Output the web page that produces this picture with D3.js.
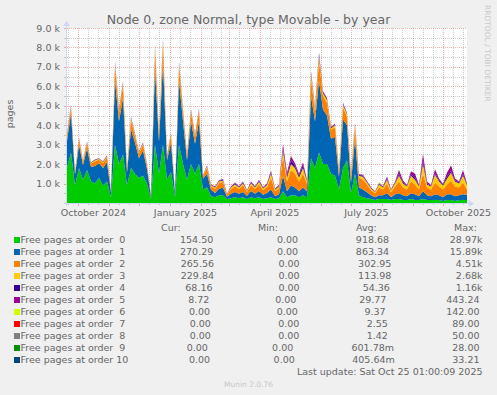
<!DOCTYPE html>
<html>
<head>
<meta charset="utf-8">
<script src="https://cdn.jsdelivr.net/npm/d3@7"></script>
<style>
  html, body { margin: 0; padding: 0; background: #f0f0f0; }
  svg { display: block; font-family: "DejaVu Sans", sans-serif; }
  text { white-space: pre; }
</style>
</head>
<body>
<svg id="chart" width="497" height="395"></svg>
<script>
var seriesNames = [
  "Free pages at order  0", "Free pages at order  1", "Free pages at order  2",
  "Free pages at order  3", "Free pages at order  4", "Free pages at order  5",
  "Free pages at order  6", "Free pages at order  7", "Free pages at order  8",
  "Free pages at order  9", "Free pages at order 10"
];
var seriesColors = [
  "#00cc00", "#0066b3", "#ff8000", "#ffcc00", "#330099", "#990099",
  "#ccff00", "#ff0000", "#808080", "#008f00", "#00487d"
];

// one sample every 4 days, from the start of the 400 day window
var startDate = new Date(Date.UTC(2024, 8, 20, 1, 0, 9));
var endDate = new Date(Date.UTC(2025, 9, 25, 1, 0, 9));
var stepDays = 4;

var order0 = [1800, 2600, 900, 1800, 1200, 1700, 1100, 1000, 1300, 900, 1100,
  300, 3000, 2000, 2500, 900, 1800, 1500, 1300, 1400, 1000,
  200, 3000, 1500, 3000, 1200, 1600, 300, 3000, 2000, 1200,
  2000, 1500, 2000, 700, 800, 350, 300, 400, 400, 200,
  250, 300, 250, 300, 200, 300, 250, 300, 200, 250,
  300, 200, 250, 600, 300, 400, 400, 300, 400, 300,
  2300, 1800, 2600, 2000, 2000, 1500, 1400, 700, 1800, 2200,
  500, 1500, 400, 300, 250, 200, 150, 200, 200, 200,
  150, 200, 200, 150, 150, 200, 150, 150, 200, 150,
  150, 150, 150, 100, 150, 150, 100, 150, 150, 155];
var order1 = [1400, 2000, 550, 1200, 750, 1100, 750, 900, 750, 900, 1000,
  250, 3300, 2200, 2900, 650, 2000, 1600, 1000, 1300, 750,
  120, 3900, 1650, 4200, 1000, 1500, 220, 3300, 2200, 1000,
  2200, 1550, 2200, 550, 700, 330, 220, 330, 380, 120,
  220, 270, 220, 270, 170, 320, 220, 320, 220, 270,
  400, 150, 200, 800, 300, 500, 400, 300, 400, 300,
  3200, 2400, 3700, 2800, 2500, 1800, 2000, 650, 2500, 1800,
  550, 1800, 400, 400, 300, 200, 150, 200, 200, 300,
  150, 250, 300, 250, 200, 300, 300, 200, 400, 250,
  200, 300, 250, 200, 300, 300, 250, 250, 300, 270];
var order2 = [250, 300, 120, 250, 180, 250, 180, 250, 180, 250, 250,
  120, 700, 450, 600, 180, 450, 350, 250, 300, 180,
  60, 900, 350, 900, 180, 400, 60, 700, 450, 250,
  450, 350, 500, 120, 300, 180, 200, 300, 300, 100,
  250, 300, 250, 350, 200, 300, 250, 350, 250, 300,
  600, 250, 300, 1000, 500, 800, 700, 500, 700, 400,
  900, 500, 1000, 700, 650, 450, 500, 250, 600, 450,
  350, 550, 500, 500, 400, 250, 200, 400, 300, 500,
  250, 400, 600, 400, 350, 600, 500, 350, 900, 400,
  350, 600, 450, 400, 500, 700, 500, 400, 600, 266];
var order3 = [60, 90, 30, 60, 50, 60, 40, 50, 40, 50, 60,
  30, 150, 100, 150, 40, 100, 70, 50, 70, 40,
  20, 200, 70, 200, 40, 70, 20, 150, 100, 50,
  100, 70, 100, 30, 80, 50, 60, 80, 80, 30,
  80, 100, 80, 100, 60, 100, 80, 120, 80, 100,
  200, 80, 100, 300, 200, 300, 300, 200, 300, 100,
  250, 150, 250, 150, 150, 100, 100, 80, 150, 100,
  100, 150, 100, 150, 100, 100, 50, 150, 100, 200,
  100, 150, 300, 200, 150, 300, 250, 150, 500, 150,
  150, 400, 250, 200, 300, 400, 250, 200, 350, 230];
var order4 = [30, 40, 10, 30, 20, 30, 20, 20, 20, 20, 30,
  10, 60, 40, 60, 20, 40, 30, 20, 30, 20,
  10, 80, 30, 80, 20, 30, 10, 60, 40, 20,
  40, 30, 40, 20, 30, 20, 20, 30, 30, 10,
  30, 40, 30, 40, 20, 40, 30, 50, 30, 40,
  60, 20, 40, 120, 100, 200, 100, 100, 150, 40,
  80, 50, 100, 60, 60, 40, 40, 30, 60, 40,
  30, 60, 40, 50, 40, 30, 20, 40, 30, 60,
  30, 40, 100, 60, 40, 80, 100, 40, 200, 50,
  40, 80, 60, 50, 100, 80, 60, 50, 80, 68];
var order5 = [20, 30, 10, 20, 10, 20, 10, 20, 10, 20, 20,
  10, 50, 30, 40, 10, 30, 20, 10, 20, 10,
  10, 60, 20, 50, 10, 20, 10, 40, 30, 10,
  30, 20, 30, 10, 30, 20, 50, 30, 40, 10,
  30, 40, 30, 40, 20, 40, 30, 50, 30, 50,
  100, 30, 50, 200, 150, 200, 150, 100, 150, 40,
  60, 40, 80, 40, 40, 30, 30, 20, 40, 30,
  30, 50, 40, 50, 40, 30, 20, 40, 30, 100,
  30, 50, 200, 100, 40, 150, 200, 50, 300, 100,
  40, 200, 100, 40, 200, 300, 100, 60, 200, 9];
var order6 = [0, 0, 0, 0, 0, 0, 0, 0, 0, 0, 0,
  0, 0, 0, 0, 0, 0, 0, 0, 0, 0,
  0, 0, 0, 0, 0, 0, 0, 0, 0, 0,
  0, 0, 0, 0, 20, 0, 0, 0, 0, 0,
  0, 0, 0, 0, 0, 0, 0, 0, 0, 0,
  30, 0, 0, 0, 0, 0, 0, 0, 0, 0,
  0, 0, 0, 0, 0, 0, 0, 0, 0, 0,
  0, 0, 0, 0, 0, 0, 0, 50, 0, 0,
  0, 0, 20, 0, 0, 0, 0, 0, 0, 0,
  0, 30, 0, 0, 0, 0, 0, 0, 0, 0];
var order7 = [0, 0, 0, 0, 0, 0, 0, 0, 0, 0, 0,
  0, 0, 0, 0, 0, 0, 0, 0, 0, 0,
  0, 0, 0, 0, 0, 0, 0, 0, 0, 0,
  0, 0, 0, 0, 0, 0, 0, 0, 0, 0,
  0, 0, 0, 0, 0, 0, 0, 0, 0, 0,
  0, 0, 0, 20, 0, 0, 0, 0, 0, 0,
  0, 0, 0, 0, 0, 0, 0, 0, 0, 0,
  0, 0, 0, 0, 0, 0, 0, 0, 0, 0,
  0, 0, 0, 0, 0, 0, 0, 0, 15, 0,
  0, 0, 0, 0, 0, 10, 0, 0, 0, 0];
var order8 = [0, 0, 0, 0, 0, 0, 0, 0, 0, 0, 0,
  0, 0, 0, 0, 0, 0, 0, 0, 0, 0,
  0, 0, 0, 0, 0, 0, 0, 0, 0, 0,
  0, 0, 0, 0, 0, 0, 0, 0, 0, 0,
  0, 0, 0, 0, 0, 0, 0, 0, 0, 0,
  0, 0, 0, 0, 0, 15, 0, 0, 0, 0,
  0, 0, 0, 0, 0, 0, 0, 0, 0, 0,
  0, 0, 0, 0, 0, 0, 0, 0, 0, 0,
  0, 0, 10, 0, 0, 0, 0, 0, 0, 0,
  0, 0, 0, 0, 0, 0, 0, 0, 0, 0];
var order9 = [0, 0, 0, 0, 0, 0, 0, 0, 0, 0, 0,
  0, 0, 0, 0, 0, 0, 0, 0, 0, 0,
  0, 10, 0, 0, 0, 0, 0, 0, 0, 0,
  0, 0, 0, 0, 0, 0, 0, 0, 0, 0,
  0, 0, 0, 0, 0, 0, 0, 0, 0, 0,
  0, 0, 0, 0, 0, 0, 0, 0, 0, 0,
  0, 0, 8, 0, 0, 0, 0, 0, 0, 0,
  0, 0, 0, 0, 0, 0, 0, 0, 0, 0,
  0, 0, 0, 0, 0, 0, 0, 0, 0, 0,
  0, 0, 0, 0, 0, 0, 0, 0, 0, 0];
var order10 = [0, 0, 0, 0, 0, 0, 0, 0, 0, 0, 0,
  0, 0, 0, 0, 0, 0, 0, 0, 0, 0,
  0, 0, 0, 15, 0, 0, 0, 0, 0, 0,
  0, 0, 0, 0, 0, 0, 0, 0, 0, 0,
  0, 0, 0, 0, 0, 0, 0, 0, 0, 0,
  0, 10, 0, 0, 0, 0, 0, 0, 0, 0,
  0, 0, 0, 0, 0, 0, 0, 0, 0, 0,
  0, 0, 0, 0, 0, 0, 0, 0, 0, 0,
  0, 0, 0, 0, 0, 0, 0, 0, 0, 0,
  0, 0, 0, 0, 0, 0, 0, 0, 0, 0];
var seriesValues = [order0, order1, order2, order3, order4, order5,
  order6, order7, order8, order9, order10];

var yTicks = [1000, 2000, 3000, 4000, 5000, 6000, 7000, 8000, 9000];
var monthLabels = ["October 2024", "January 2025", "April 2025", "July 2025", "October 2025"];
var monthLabelMonths = [[2024, 9], [2025, 0], [2025, 3], [2025, 6], [2025, 9]];

var legendCur = [154.50, 270.29, 265.56, 229.84, 68.16, 8.72, 0, 0, 0, 0, 0];
var legendMin = [0, 0, 0, 0, 0, 0, 0, 0, 0, 0, 0];
var legendAvg = [918.68, 863.34, 302.95, 113.98, 54.36, 29.77, 9.37, 2.55, 1.42, 0.60178, 0.40564];
var legendMax = [28970, 15890, 4510, 2680, 1160, 443.24, 142.00, 89.00, 50.00, 28.00, 33.21];

var titleText = "Node 0, zone Normal, type Movable - by year";
var lastUpdate = "Last update: Sat Oct 25 01:00:09 2025";

var fontColor = "#666666";
var axisColor = "#cfd6f8";
var gridColor = "rgba(143,143,143,0.45)";
var majorGridColor = "rgba(222,79,79,0.45)";

var plot = { left: 67, right: 467, top: 28, bottom: 203 };

var svg = d3.select("#chart");
svg.append("rect").attr("width", 497).attr("height", 395).attr("fill", "#f0f0f0");

var xScale = d3.scaleUtc().domain([startDate, endDate]).range([plot.left, plot.right]);
var yScale = d3.scaleLinear().domain([0, 9000]).range([plot.bottom, plot.top]);

// rows for the stack
var rows = order0.map(function(d, i) {
  var row = { date: d3.utcDay.offset(startDate, i * stepDays) };
  seriesValues.forEach(function(vals, k) { row["s" + k] = vals[i]; });
  return row;
});
var keys = seriesValues.map(function(d, k) { return "s" + k; });
var stacked = d3.stack().keys(keys)(rows);

// canvas
svg.append("rect")
  .attr("x", plot.left).attr("y", plot.top)
  .attr("width", plot.right - plot.left).attr("height", plot.bottom - plot.top)
  .attr("fill", "#ffffff");

// grid (behind the areas)
var grid = svg.append("g").attr("shape-rendering", "crispEdges");
var minorY = d3.range(500, 9001, 500);
minorY.forEach(function(v) {
  var y = Math.round(yScale(v)) + 0.5;
  var major = v % 1000 === 0;
  grid.append("line")
    .attr("x1", plot.left).attr("x2", plot.right)
    .attr("y1", y).attr("y2", y)
    .attr("stroke", major ? majorGridColor : gridColor)
    .attr("stroke-dasharray", "1,1");
  grid.append("line")
    .attr("x1", plot.left - 3).attr("x2", plot.left)
    .attr("y1", y).attr("y2", y)
    .attr("stroke", major ? majorGridColor : gridColor);
});

var monthStarts = d3.utcMonth.range(d3.utcMonth.ceil(startDate), endDate);
var minorDays = d3.utcDay.range(startDate, endDate).filter(function(d) {
  return d.getUTCDate() === 11 || d.getUTCDate() === 21;
});
minorDays.forEach(function(d) {
  var x = Math.round(xScale(d)) + 0.5;
  grid.append("line")
    .attr("x1", x).attr("x2", x).attr("y1", plot.top).attr("y2", plot.bottom)
    .attr("stroke", gridColor).attr("stroke-dasharray", "1,1");
  grid.append("line")
    .attr("x1", x).attr("x2", x).attr("y1", plot.bottom).attr("y2", plot.bottom + 2)
    .attr("stroke", gridColor);
});
monthStarts.forEach(function(d) {
  var x = Math.round(xScale(d)) + 0.5;
  grid.append("line")
    .attr("x1", x).attr("x2", x).attr("y1", plot.top).attr("y2", plot.bottom)
    .attr("stroke", majorGridColor).attr("stroke-dasharray", "1,1");
  grid.append("line")
    .attr("x1", x).attr("x2", x).attr("y1", plot.bottom).attr("y2", plot.bottom + 3)
    .attr("stroke", majorGridColor);
});

svg.append("clipPath").attr("id", "plotClip")
  .append("rect")
  .attr("x", plot.left).attr("y", plot.top - 2)
  .attr("width", plot.right - plot.left).attr("height", plot.bottom - plot.top + 2);

var area = d3.area()
  .x(function(d) { return xScale(d.data.date); })
  .y0(function(d) { return yScale(d[0]); })
  .y1(function(d) { return yScale(d[1]); });

svg.append("g").attr("clip-path", "url(#plotClip)")
  .selectAll("path")
  .data(stacked)
  .join("path")
  .attr("fill", function(d, i) { return seriesColors[i]; })
  .attr("d", area);

// axes with arrows
var axes = svg.append("g");
axes.append("line")
  .attr("x1", plot.left - 3).attr("x2", plot.right + 3)
  .attr("y1", plot.bottom + 0.5).attr("y2", plot.bottom + 0.5)
  .attr("stroke", axisColor);
axes.append("path")
  .attr("d", "M" + (plot.right + 7) + "," + (plot.bottom + 0.5) + " l-5,-3.5 l0,7 z")
  .attr("fill", axisColor);
axes.append("line")
  .attr("x1", plot.left - 0.5).attr("x2", plot.left - 0.5)
  .attr("y1", plot.bottom + 3).attr("y2", plot.top - 3)
  .attr("stroke", axisColor);
axes.append("path")
  .attr("d", "M" + (plot.left - 0.5) + "," + (plot.top - 7) + " l-3.5,5 l7,0 z")
  .attr("fill", axisColor);

// y tick labels
svg.append("g")
  .selectAll("text")
  .data(yTicks)
  .join("text")
  .attr("x", 60)
  .attr("y", function(d) { return yScale(d) + 3.5; })
  .attr("text-anchor", "end")
  .attr("font-size", "9.5px")
  .attr("fill", fontColor)
  .text(function(d) { return (d / 1000).toFixed(1) + " k"; });

// x month labels, centred in their month
svg.append("g")
  .selectAll("text")
  .data(monthLabels)
  .join("text")
  .attr("x", function(d, i) {
    var m = monthLabelMonths[i];
    var a = Date.UTC(m[0], m[1], 1), b = Date.UTC(m[0], m[1] + 1, 1);
    return xScale(new Date((a + b) / 2));
  })
  .attr("y", 216)
  .attr("text-anchor", "middle")
  .attr("font-size", "9.5px")
  .attr("fill", fontColor)
  .text(function(d) { return d; });

// title and side texts
svg.append("text")
  .attr("x", 248.5).attr("y", 23.5)
  .attr("text-anchor", "middle")
  .attr("font-size", "12.5px")
  .attr("fill", fontColor)
  .text(titleText);

svg.append("text")
  .attr("transform", "translate(13,114) rotate(-90)")
  .attr("text-anchor", "middle")
  .attr("font-size", "9.5px")
  .attr("fill", fontColor)
  .text("pages");

svg.append("text")
  .attr("transform", "translate(485,5) rotate(90)")
  .attr("font-size", "7.5px")
  .attr("fill", "#c8c8c8")
  .text("RRDTOOL / TOBI OETIKER");

// legend
function rrdFormat(v) {
  var suffix = " ";
  if (v !== 0 && Math.abs(v) >= 1000) { v = v / 1000; suffix = "k"; }
  else if (v !== 0 && Math.abs(v) < 1) { v = v * 1000; suffix = "m"; }
  var s = v.toFixed(2);
  while (s.length < 6) s = " " + s;
  return s + suffix;
}

var legendLeft = 14, legendRight = 482.5;
var legend = svg.append("g").attr("font-size", "9.5px").attr("fill", fontColor);

var headers = ["Cur:", "Min:", "Avg:", "Max:"];
var headerX = [161, 258, 356, 454];
headers.forEach(function(h, i) {
  legend.append("text").attr("x", headerX[i]).attr("y", 230.5).text(h);
});

seriesNames.forEach(function(name, i) {
  var y = 243 + i * 12;
  var row = legend.append("g");
  row.append("rect")
    .attr("x", legendLeft).attr("y", y - 6)
    .attr("width", 6).attr("height", 6)
    .attr("fill", seriesColors[i]);
  var label = row.append("text").attr("x", legendLeft + 6.5).attr("y", y).text(name);
  var items = [legendCur[i], legendMin[i], legendAvg[i], legendMax[i]].map(rrdFormat);
  var texts = items.map(function(s) { return row.append("text").attr("y", y).text(s); });
  var widths = texts.map(function(t) { return t.node().getComputedTextLength(); });
  var labelEnd = legendLeft + 6.5 + label.node().getComputedTextLength();
  var used = (labelEnd - legendLeft) + d3.sum(widths);
  var gap = (legendRight - legendLeft - used) / items.length;
  var x = labelEnd + gap;
  texts.forEach(function(t, k) {
    t.attr("x", x);
    x += widths[k] + gap;
  });
});

legend.append("text")
  .attr("x", legendRight).attr("y", 375)
  .attr("text-anchor", "end")
  .text(lastUpdate);

svg.append("text")
  .attr("x", 248.5).attr("y", 387)
  .attr("text-anchor", "middle")
  .attr("font-size", "7.5px")
  .attr("fill", "#c8c8c8")
  .text("Munin 2.0.76");
</script>
</body>
</html>
